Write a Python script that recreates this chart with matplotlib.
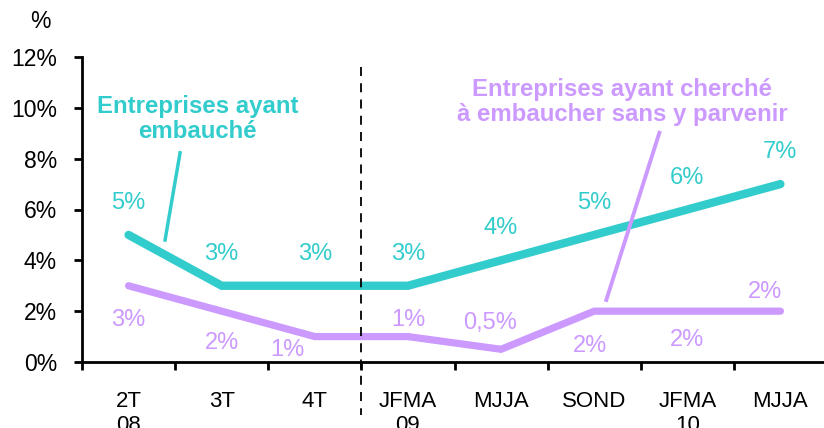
import numpy as np
import matplotlib.pyplot as plt

plt.rcParams['font.family'] = ['Liberation Sans', 'DejaVu Sans']

periods = ['2T\n08', '3T', '4T', 'JFMA\n09', 'MJJA', 'SOND', 'JFMA\n10', 'MJJA']
embauche = [5, 3, 3, 3, 4, 5, 6, 7]
sans_succes = [3, 2, 1, 1, 0.5, 2, 2, 2]
lab_emb = ['5%', '3%', '3%', '3%', '4%', '5%', '6%', '7%']
lab_sans = ['3%', '2%', '1%', '1%', '0,5%', '2%', '2%', '2%']

teal = '#33CCCC'
purple = '#CC99FF'

fig = plt.figure(figsize=(8.24, 4.28), dpi=100)
ax = fig.add_axes([82/824, 1 - 362/428, 745/824, 305/428])

x = np.arange(len(periods))
ax.plot(x, embauche, color=teal, lw=6, solid_capstyle='round', solid_joinstyle='miter', clip_on=False)
ax.plot(x, sans_succes, color=purple, lw=5.2, solid_capstyle='round', solid_joinstyle='miter', clip_on=False)

# data labels (offsets in points)
emb_off = [(0, 23), (0, 23), (0, 23), (0, 23), (0, 23), (0, 23), (0, 23), (0, 23)]
sans_off = [(0, -25), (0, -23), (-20, -10), (0, 12), (-8, 19), (-3, -25), (0, -21), (-11, 14)]
for i in range(len(x)):
    ax.annotate(lab_emb[i], (x[i], embauche[i]), xytext=emb_off[i], textcoords='offset points',
                ha='center', va='center', color=teal, fontsize=17)
    ax.annotate(lab_sans[i], (x[i], sans_succes[i]), xytext=sans_off[i], textcoords='offset points',
                ha='center', va='center', color=purple, fontsize=17)

# series names with leader lines
ax.text(0.74, 9.57, 'Entreprises ayant\nembauché', color=teal, fontsize=17.3, fontweight='bold',
        ha='center', va='center', linespacing=1.1)
ax.plot([0.553, 0.392], [8.23, 4.8], color=teal, lw=2.5, clip_on=False)
ax.text(5.30, 10.24, 'Entreprises ayant cherché\nà embaucher sans y parvenir', color=purple,
        fontsize=17.3, fontweight='bold', ha='center', va='center', linespacing=1.1)
ax.plot([5.70, 5.13], [9.02, 2.44], color=purple, lw=2.8, clip_on=False)

# separator between quarterly and four-month periods
ax.plot([2.5, 2.5], [11.6, -2.1], color='black', lw=1.3, ls=(0, (5, 4)), clip_on=False)

ax.set_xlim(-0.5, 7.5)
ax.set_ylim(0, 12)
ax.set_yticks(range(0, 13, 2))
ax.set_yticklabels([f'{v}%' for v in range(0, 13, 2)])
ax.set_xticks(np.arange(-0.5, 8, 1))
ax.set_xticklabels([])
ax.set_xticks(x, minor=True)
ax.set_xticklabels(periods, minor=True)

ax.tick_params(axis='y', direction='out', length=6, width=2, pad=12, labelsize=16.5)
ax.tick_params(axis='x', which='major', direction='out', length=6, width=2)
ax.tick_params(axis='x', which='minor', length=0, pad=21, labelsize=16)
for s in ['top', 'right']:
    ax.spines[s].set_visible(False)
for s in ['left', 'bottom']:
    ax.spines[s].set_linewidth(2)

fig.text(40/824, 1 - 22/428, '%', fontsize=16.5, ha='center', va='center')

fig.savefig('out.png', dpi=100)
